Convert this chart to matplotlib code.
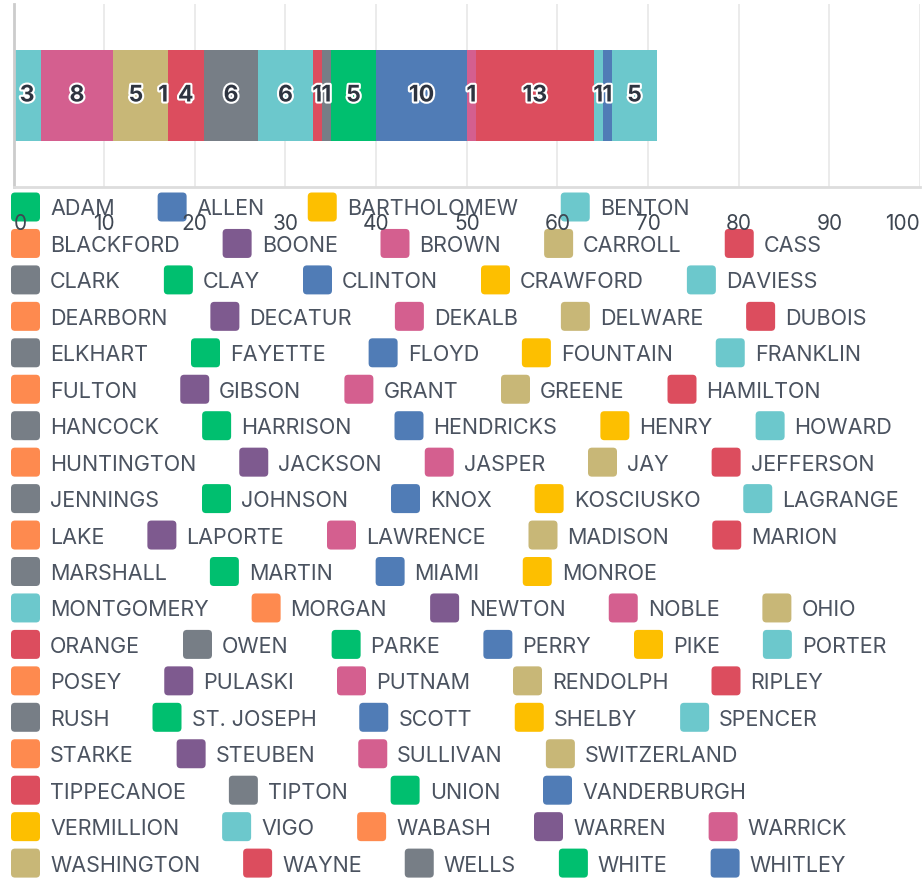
import matplotlib
matplotlib.use("Agg")
import matplotlib.pyplot as plt
import matplotlib.patheffects as pe
from matplotlib.patches import FancyBboxPatch

plt.rcParams["font.family"] = ["Inter", "DejaVu Sans"]

counties = [
    "ADAM", "ALLEN", "BARTHOLOMEW", "BENTON", "BLACKFORD", "BOONE", "BROWN",
    "CARROLL", "CASS", "CLARK", "CLAY", "CLINTON", "CRAWFORD", "DAVIESS",
    "DEARBORN", "DECATUR", "DEKALB", "DELWARE", "DUBOIS", "ELKHART",
    "FAYETTE", "FLOYD", "FOUNTAIN", "FRANKLIN", "FULTON", "GIBSON", "GRANT",
    "GREENE", "HAMILTON", "HANCOCK", "HARRISON", "HENDRICKS", "HENRY",
    "HOWARD", "HUNTINGTON", "JACKSON", "JASPER", "JAY", "JEFFERSON",
    "JENNINGS", "JOHNSON", "KNOX", "KOSCIUSKO", "LAGRANGE", "LAKE", "LAPORTE",
    "LAWRENCE", "MADISON", "MARION", "MARSHALL", "MARTIN", "MIAMI", "MONROE",
    "MONTGOMERY", "MORGAN", "NEWTON", "NOBLE", "OHIO", "ORANGE", "OWEN",
    "PARKE", "PERRY", "PIKE", "PORTER", "POSEY", "PULASKI", "PUTNAM",
    "RENDOLPH", "RIPLEY", "RUSH", "ST. JOSEPH", "SCOTT", "SHELBY", "SPENCER",
    "STARKE", "STEUBEN", "SULLIVAN", "SWITZERLAND", "TIPPECANOE", "TIPTON",
    "UNION", "VANDERBURGH", "VERMILLION", "VIGO", "WABASH", "WARREN",
    "WARRICK", "WASHINGTON", "WAYNE", "WELLS", "WHITE", "WHITLEY",
]
counts = {
    "BENTON": 3, "BROWN": 8, "CARROLL": 5, "DELWARE": 1, "DUBOIS": 4,
    "ELKHART": 6, "FRANKLIN": 6, "HAMILTON": 1, "HANCOCK": 1, "JOHNSON": 5,
    "KNOX": 10, "LAWRENCE": 1, "MARION": 13, "MONTGOMERY": 1, "PERRY": 1,
    "PORTER": 5,
}
values = [counts.get(c, 0) for c in counties]
palette = [
    "#00bf6f", "#507cb6", "#fdbf00", "#6cc8cc", "#fe8a4f",
    "#7e5a8f", "#d45f8f", "#c8b777", "#dc4d5e", "#777e86",
]
xticks = list(range(0, 101, 10))

# how many legend entries go on each wrapped row
row_sizes = [4, 5, 5, 5, 5, 5, 5, 5, 5, 5, 4, 5, 6, 5, 5, 4, 4, 5, 5]

W, H = 924, 879
fig = plt.figure(figsize=(W / 100, H / 100), dpi=100)

# overlay in pixel coords for the legend (drawn under the main axes)
ov = fig.add_axes([0, 0, 1, 1], zorder=0)
ov.set_xlim(0, W)
ov.set_ylim(H, 0)
ov.axis("off")

ax = fig.add_axes([13.5 / W, 1 - 188 / H, 906.5 / W, 183 / H], zorder=1)
ax.patch.set_alpha(0)

left = 0
for i, (name, v) in enumerate(zip(counties, values)):
    color = palette[i % len(palette)]
    if v == 0:
        continue
    ax.barh(0, v, left=left, height=0.5, color=color, align="center")
    ax.text(left + v / 2, 0, str(v), ha="center", va="center",
            fontsize=16.5, fontweight="bold", color="#2e3440",
            path_effects=[pe.withStroke(linewidth=3, foreground="white")])
    left += v

ax.set_xlim(0, 100)
ax.set_ylim(0.5, -0.5)
ax.set_yticks([])
ax.set_xticks(xticks)
ax.grid(axis="x", color="#e8e8e8", linewidth=1.2)
ax.set_axisbelow(True)
for s in ["top", "right"]:
    ax.spines[s].set_visible(False)
ax.spines["left"].set_color("#cccccc")
ax.spines["left"].set_linewidth(2)
ax.spines["bottom"].set_color("#dddddd")
ax.spines["bottom"].set_linewidth(2)
ax.tick_params(axis="x", length=0, pad=19, labelsize=15, labelcolor="#3f4752")
labels = ax.get_xticklabels()
labels[0].set_ha("left")
labels[-1].set_ha("right")

# legend: left aligned rows
renderer = fig.canvas.get_renderer()
box, gap_text, gap_item = 29, 10, 43
x0, y0, row_h = 11, 208, 36.45
i = 0
for r, n in enumerate(row_sizes):
    x = x0
    y = y0 + r * row_h
    for name in counties[i:i + n]:
        ov.add_patch(FancyBboxPatch((x, y - box / 2), box, box,
                                    boxstyle="round,pad=0,rounding_size=4",
                                    fc=palette[i % len(palette)], ec="none"))
        t = ov.text(x + box + gap_text, y + 1.5, name, fontsize=15.5,
                    color="#4b5360", va="center", ha="left")
        x += box + gap_text + t.get_window_extent(renderer).width + gap_item
        i += 1

fig.savefig("out.png", dpi=100)
